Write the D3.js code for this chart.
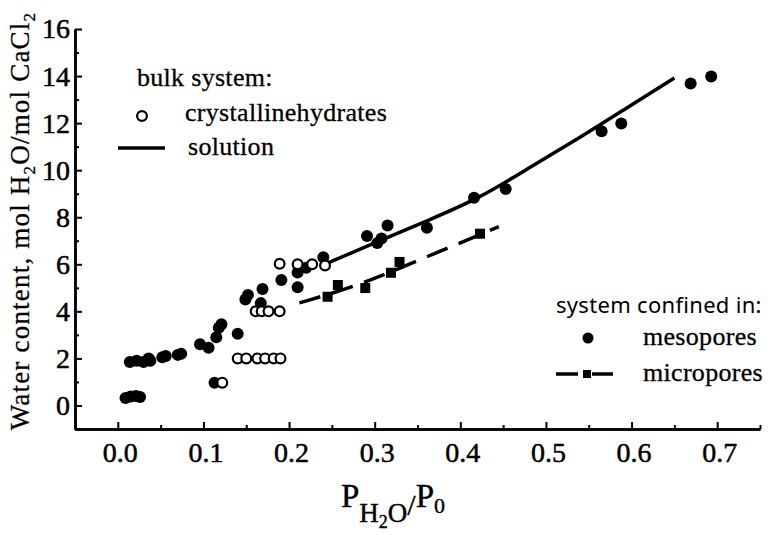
<!DOCTYPE html>
<html>
<head>
<meta charset="utf-8">
<script src="https://cdn.jsdelivr.net/npm/d3@7"></script>
<style>
	body { margin: 0; background: #fff; overflow: hidden; }
	svg { display: block; }
	.domain { stroke: #000; stroke-width: 2.5; }
	.tick line { stroke: #000; stroke-width: 2; }
</style>
</head>
<body>
<svg></svg>
<script>
// P(H2O)/P0 vs water content
const mesoporesX = [0.009, 0.015, 0.021, 0.026, 0.014, 0.022, 0.030, 0.036, 0.038, 0.052, 0.056, 0.070, 0.074,
	0.096, 0.106, 0.113, 0.115, 0.118, 0.121, 0.140, 0.149, 0.152, 0.167, 0.169, 0.191, 0.210, 0.210, 0.220, 0.240,
	0.291, 0.303, 0.308, 0.315, 0.361, 0.416, 0.453, 0.565, 0.588, 0.669, 0.693];
const mesoporesY = [0.32, 0.38, 0.40, 0.36, 1.85, 1.90, 1.85, 2.00, 1.90, 2.05, 2.10, 2.15, 2.20,
	2.60, 2.45, 0.97, 2.90, 3.30, 3.45, 3.05, 4.50, 4.70, 4.35, 4.95, 5.33, 5.02, 5.65, 5.85, 6.30,
	7.20, 6.90, 7.10, 7.65, 7.55, 8.83, 9.20, 11.65, 11.98, 13.68, 13.98];

const hydratesX = [0.122, 0.140, 0.150, 0.163, 0.172, 0.182, 0.190, 0.161, 0.168, 0.176, 0.189, 0.189, 0.210, 0.227, 0.242];
const hydratesY = [0.97, 2, 2, 2, 2, 2, 2, 4, 4, 4, 4, 6.02, 6, 6, 5.95];

const microporesX = [0.245, 0.257, 0.289, 0.319, 0.329, 0.423];
const microporesY = [4.62, 5.12, 4.99, 5.64, 6.10, 7.30];

const solutionX = [0.245, 0.305, 0.364, 0.422, 0.480, 0.539, 0.597, 0.650];
const solutionY = [6.05, 6.99, 7.89, 8.80, 10.09, 11.37, 12.71, 13.92];

const microFitX = [0.212, 0.280, 0.350, 0.445];
const microFitY = [4.36, 5.08, 6.15, 7.60];

const xTicks = [0, 0.1, 0.2, 0.3, 0.4, 0.5, 0.6, 0.7];
const xMinorTicks = [-0.05, 0.05, 0.15, 0.25, 0.35, 0.45, 0.55, 0.65, 0.75];
const yTicks = [0, 2, 4, 6, 8, 10, 12, 14, 16];
const yMinorTicks = [-1, 1, 3, 5, 7, 9, 11, 13, 15];

const serif = 'Liberation Serif, Times New Roman, serif';
const sans = 'Noto Sans, Open Sans, sans-serif';

const svg = d3.select('svg')
	.attr('width', 779)
	.attr('height', 535)
	.attr('font-family', serif);

let width = +svg.attr('width'),
	height = +svg.attr('height'),
	margin = { top: 29, right: 19, bottom: 106, left: 75 },
	innerWidth = width - margin.left - margin.right,
	innerHeight = height - margin.top - margin.bottom;

const xScale = d3.scaleLinear()
	.domain([-0.05, 0.75])
	.range([0, innerWidth]);

const yScale = d3.scaleLinear()
	.domain([-1, 16])
	.range([innerHeight, 0]);

const zip = (xs, ys) => xs.map((x, i) => ({ x: x, y: ys[i] }));

const g = svg.append('g')
	.attr('transform', `translate(${margin.left}, ${margin.top})`);

// axes, ticks pointing inward; drop d3's default 10px sans-serif
const styleAxis = sel => {
	sel.attr('font-family', serif).attr('font-size', 28);
	sel.selectAll('text')
		.attr('fill', '#000')
		.attr('stroke', '#000')
		.attr('stroke-width', 0.5);
};

const xAxisMinor = d3.axisBottom(xScale)
	.tickValues(xMinorTicks)
	.tickSizeInner(-4)
	.tickSizeOuter(0);
g.append('g').call(xAxisMinor)
	.attr('transform', `translate(0, ${innerHeight})`)
	.selectAll('text').remove();

const xAxis = d3.axisBottom(xScale)
	.tickValues(xTicks)
	.tickSizeInner(-7)
	.tickSizeOuter(0)
	.tickPadding(13)
	.tickFormat(d3.format('.1f'));
g.append('g').call(xAxis)
	.attr('transform', `translate(0, ${innerHeight})`)
	.call(styleAxis)
	.selectAll('text').attr('dx', 2);

const yAxisMinor = d3.axisLeft(yScale)
	.tickValues(yMinorTicks)
	.tickSizeInner(-4)
	.tickSizeOuter(0);
g.append('g').call(yAxisMinor)
	.selectAll('text').remove();

const yAxis = d3.axisLeft(yScale)
	.tickValues(yTicks)
	.tickSizeInner(-7)
	.tickSizeOuter(0)
	.tickPadding(5);
g.append('g').call(yAxis)
	.call(styleAxis);

// fitted curves
const line = d3.line()
	.x(d => xScale(d.x))
	.y(d => yScale(d.y))
	.curve(d3.curveBasis);

g.append('path')
	.attr('d', line(zip(solutionX, solutionY)))
	.attr('fill', 'none')
	.attr('stroke', '#000')
	.attr('stroke-width', 3.5);

g.append('path')
	.attr('d', line(zip(microFitX, microFitY)))
	.attr('fill', 'none')
	.attr('stroke', '#000')
	.attr('stroke-width', 3.5)
	.attr('stroke-dasharray', '22, 12');

// points
g.selectAll('.meso')
	.data(zip(mesoporesX, mesoporesY))
	.enter().append('circle')
	.attr('class', 'meso')
	.attr('r', 6)
	.attr('cx', d => xScale(d.x))
	.attr('cy', d => yScale(d.y))
	.attr('fill', '#000');

g.selectAll('.hydrate')
	.data(zip(hydratesX, hydratesY))
	.enter().append('circle')
	.attr('class', 'hydrate')
	.attr('r', 4.9)
	.attr('cx', d => xScale(d.x))
	.attr('cy', d => yScale(d.y))
	.attr('fill', '#fff')
	.attr('stroke', '#000')
	.attr('stroke-width', 2.2);

g.selectAll('.micro')
	.data(zip(microporesX, microporesY))
	.enter().append('rect')
	.attr('class', 'micro')
	.attr('width', 10)
	.attr('height', 10)
	.attr('x', d => xScale(d.x) - 5)
	.attr('y', d => yScale(d.y) - 5)
	.attr('fill', '#000');

// axis titles
const yTitle = svg.append('text')
	.attr('transform', 'translate(29, 221) rotate(-90)')
	.attr('text-anchor', 'middle')
	.attr('font-size', 27)
	.attr('letter-spacing', 1.2)
	.attr('stroke', '#000')
	.attr('stroke-width', 0.3);
yTitle.append('tspan').text('Water content, mol H');
yTitle.append('tspan').text('2').attr('dy', 6).attr('font-size', 17);
yTitle.append('tspan').text('O/mol CaCl').attr('dy', -6);
yTitle.append('tspan').text('2').attr('dy', 6).attr('font-size', 17);

const xTitle = svg.append('text')
	.attr('x', 393)
	.attr('y', 507)
	.attr('text-anchor', 'middle')
	.attr('stroke', '#000')
	.attr('stroke-width', 0.4);
xTitle.append('tspan').text('P').attr('font-size', 33);
xTitle.append('tspan').text('H').attr('dy', 15).attr('font-size', 27);
xTitle.append('tspan').text('2').attr('dy', 6).attr('font-size', 18);
xTitle.append('tspan').text('O').attr('dy', -6).attr('font-size', 27);
xTitle.append('tspan').text('/').attr('dy', -7).attr('font-size', 30);
xTitle.append('tspan').text('P').attr('dy', -8).attr('font-size', 33);
xTitle.append('tspan').text('0').attr('dy', 6).attr('font-size', 22);

// legends
const legend = svg.append('g')
	.attr('font-size', 26)
	.attr('letter-spacing', 0.3);
const legendText = (x, y, label) => legend.append('text')
	.attr('x', x).attr('y', y)
	.attr('stroke', '#000').attr('stroke-width', 0.3)
	.text(label);

legendText(137, 86, 'bulk system:');
legend.append('circle')
	.attr('cx', 142).attr('cy', 116).attr('r', 4.9)
	.attr('fill', '#fff').attr('stroke', '#000').attr('stroke-width', 2.2);
legendText(185, 121, 'crystallinehydrates');
legend.append('line')
	.attr('x1', 118).attr('x2', 165).attr('y1', 148).attr('y2', 148)
	.attr('stroke', '#000').attr('stroke-width', 3.5);
legendText(188, 155, 'solution');

legend.append('text').attr('x', 556).attr('y', 313)
	.attr('font-family', sans)
	.attr('font-size', 22)
	.text('system confined in:');
legend.append('circle')
	.attr('cx', 588).attr('cy', 338).attr('r', 5.5).attr('fill', '#000');
legendText(643, 345, 'mesopores');
legend.append('line')
	.attr('x1', 556).attr('x2', 613).attr('y1', 374).attr('y2', 374)
	.attr('stroke', '#000').attr('stroke-width', 3.5)
	.attr('stroke-dasharray', '22, 14, 21');
legend.append('rect')
	.attr('x', 583).attr('y', 370).attr('width', 8).attr('height', 8)
	.attr('fill', '#000');
legendText(643, 381, 'micropores');
</script>
</body>
</html>
